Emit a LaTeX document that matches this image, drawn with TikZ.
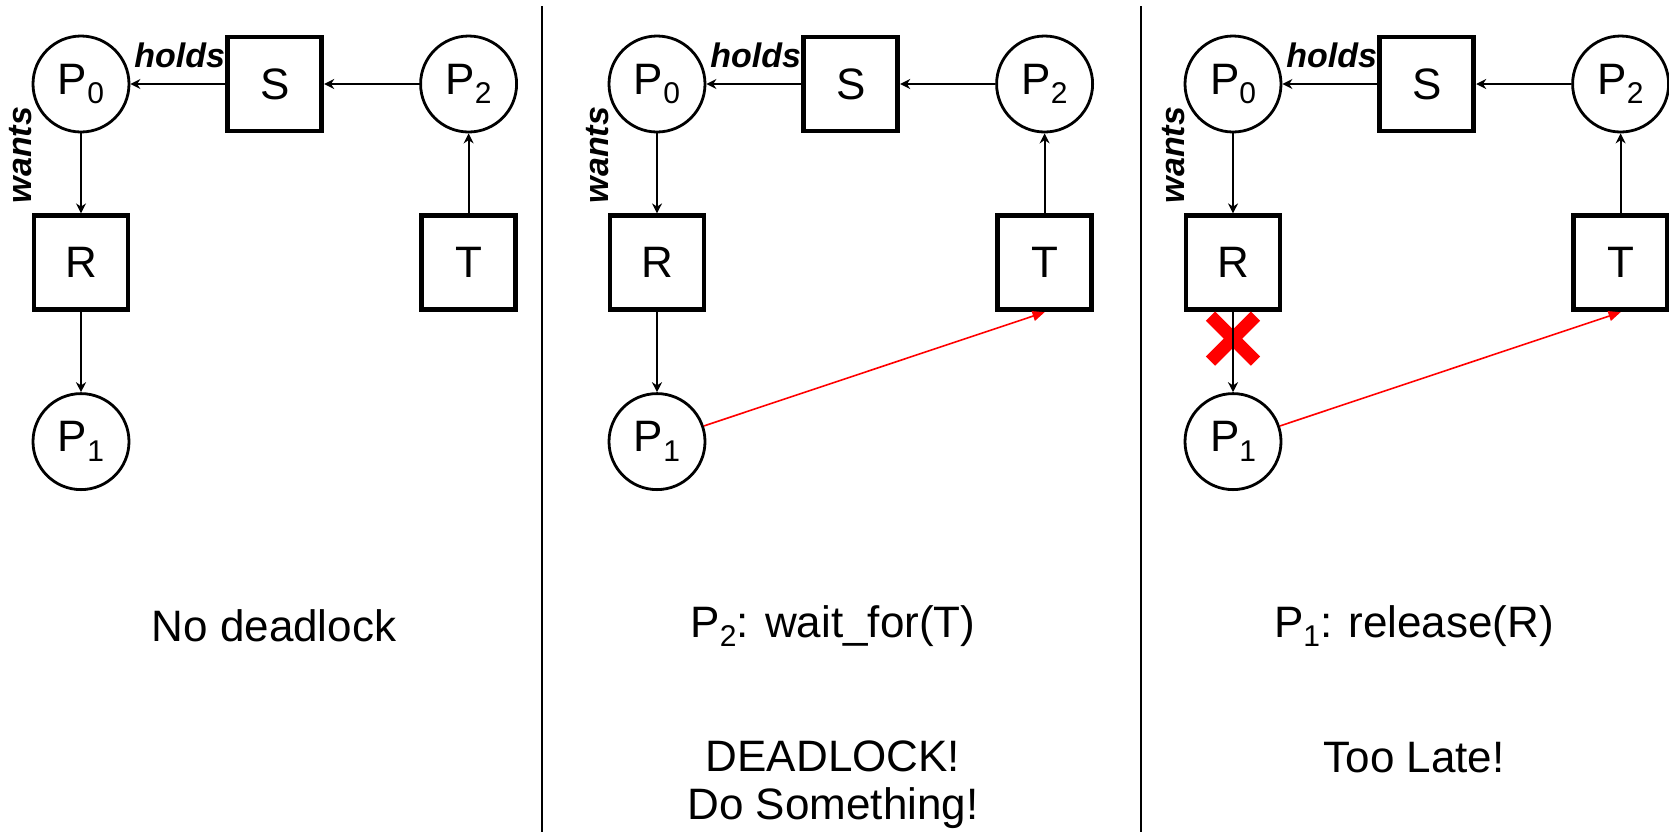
\documentclass[tikz,border=0pt]{standalone}
\usepackage{fontspec}
\setmainfont{Liberation Sans}
\usepackage{tikz}
\usetikzlibrary{positioning,arrows.meta,shapes.misc}
\newcommand{\idx}[1]{\raisebox{-0.22em}{\fontsize{15}{15}\selectfont #1}}

\begin{document}
\begin{tikzpicture}[
  x=0.5pt, y=-0.5pt,
  node distance=40pt and 47.5pt,
  proc/.style={draw, circle, line width=1.4pt, minimum size=48pt, inner sep=0pt, font=\fontsize{22}{26}\selectfont},
  res/.style={draw, rectangle, line width=2.4pt, minimum size=47pt, inner sep=0pt, font=\fontsize{22}{26}\selectfont},
  lbl/.style={font=\fontsize{17}{20}\selectfont\bfseries\itshape, inner sep=0pt},
  captxt/.style={font=\fontsize{22}{24}\selectfont, align=center, inner sep=0pt},
  arr/.style={-{Stealth[length=5pt,width=5pt]}, line width=1pt},
  late/.style={-{Triangle[length=6pt,width=5pt]}, red, line width=0.8pt},
  xmark/.style={cross out, draw=red, line width=6.5pt, minimum size=16pt, inner sep=0pt},
  sep/.style={line width=1pt}
]
\useasboundingbox (0,0) rectangle (1669,832);
\draw[sep] (542,6) -- (542,832);
\draw[sep] (1141,6) -- (1141,832);

\node[proc] (P0a) at (81,84) {P\idx{0}};
\node[res, right=of P0a] (Sa) {S};
\node[proc, right=of Sa] (P2a) {P\idx{2}};
\node[res, below=of P0a] (Ra) {R};
\node[res, below=of P2a] (Ta) {T};
\node[proc, below=of Ra] (P1a) {P\idx{1}};
\node[lbl, anchor=base east] (holdsa) at ([yshift=8.5pt]Sa.west) {holds};
\node[lbl, rotate=90, anchor=base] (wantsa) at ([xshift=-24.5pt,yshift=-35.5pt]P0a) {wants};
\node[captxt] (capa) at (274,626) {No deadlock};
\draw[arr] (P2a) -- (Sa);
\draw[arr] (Sa) -- (P0a);
\draw[arr] (P0a) -- (Ra);
\draw[arr] (Ra) -- (P1a);
\draw[arr] (Ta) -- (P2a);

\node[proc] (P0b) at (657,84) {P\idx{0}};
\node[res, right=of P0b] (Sb) {S};
\node[proc, right=of Sb] (P2b) {P\idx{2}};
\node[res, below=of P0b] (Rb) {R};
\node[res, below=of P2b] (Tb) {T};
\node[proc, below=of Rb] (P1b) {P\idx{1}};
\node[lbl, anchor=base east] (holdsb) at ([yshift=8.5pt]Sb.west) {holds};
\node[lbl, rotate=90, anchor=base] (wantsb) at ([xshift=-24.5pt,yshift=-35.5pt]P0b) {wants};
\node[captxt] (capb) at (833,626) {P\idx{2}: wait\_for(T)};
\node[captxt] (noteb) at (833,785) {DEADLOCK!\\Do Something!};
\draw[arr] (P2b) -- (Sb);
\draw[arr] (Sb) -- (P0b);
\draw[arr] (P0b) -- (Rb);
\draw[arr] (Rb) -- (P1b);
\draw[arr] (Tb) -- (P2b);
\draw[late] (P1b) -- (Tb.south);

\node[proc] (P0c) at (1233,84) {P\idx{0}};
\node[res, right=of P0c] (Sc) {S};
\node[proc, right=of Sc] (P2c) {P\idx{2}};
\node[res, below=of P0c] (Rc) {R};
\node[res, below=of P2c] (Tc) {T};
\node[proc, below=of Rc] (P1c) {P\idx{1}};
\node[lbl, anchor=base east] (holdsc) at ([yshift=8.5pt]Sc.west) {holds};
\node[lbl, rotate=90, anchor=base] (wantsc) at ([xshift=-24.5pt,yshift=-35.5pt]P0c) {wants};
\node[captxt] (capc) at (1414,626) {P\idx{1}: release(R)};
\node[captxt] (notec) at (1414,758) {Too Late!};
\path (Rc) -- node[pos=0.33, xmark] (cut) {} (P1c);
\draw[arr] (P2c) -- (Sc);
\draw[arr] (Sc) -- (P0c);
\draw[arr] (P0c) -- (Rc);
\draw[arr] (Rc) -- (P1c);
\draw[arr] (Tc) -- (P2c);
\draw[late] (P1c) -- (Tc.south);
\end{tikzpicture}
\end{document}
